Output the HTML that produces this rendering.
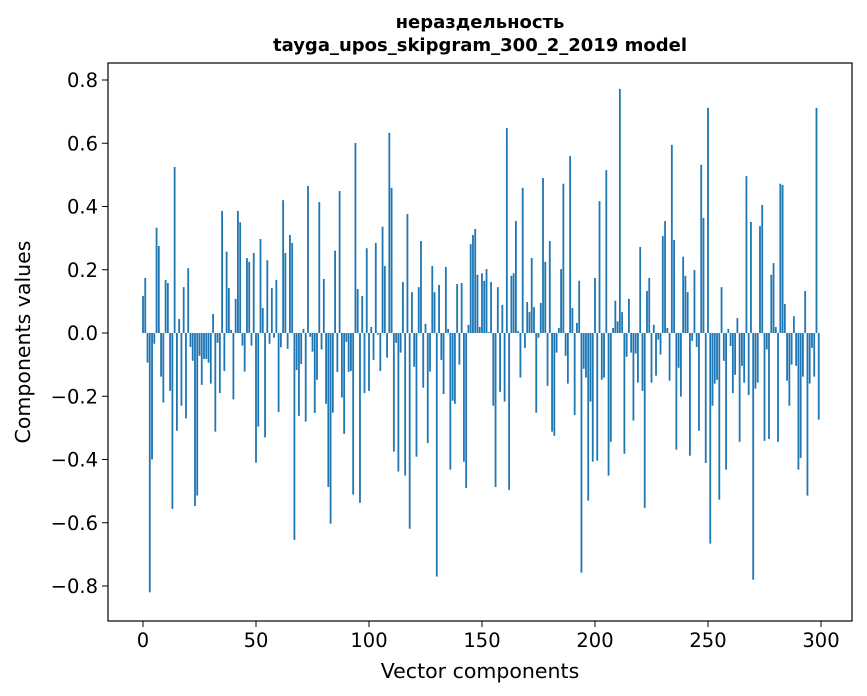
<!DOCTYPE html>
<html><head><meta charset="utf-8"><style>
body{margin:0;background:#fff;}
svg{display:block;font-family:"DejaVu Sans","Liberation Sans",sans-serif;}
</style></head><body>
<svg id="chart" width="867" height="696" viewBox="0 0 867 696" xmlns="http://www.w3.org/2000/svg">
<rect width="867" height="696" fill="#fff"/>
<text x="480" y="28" text-anchor="middle" font-size="18" font-weight="bold">нераздельность</text>
<text x="480" y="51" text-anchor="middle" font-size="18" font-weight="bold">tayga_upos_skipgram_300_2_2019 model</text>
<g id="bars"></g>
<g id="xticks"></g>
<g id="yticks"></g>
<rect x="108" y="63" width="744" height="558" fill="none" stroke="#000" stroke-width="1.2"/>
<text x="480" y="678" text-anchor="middle" font-size="20.5">Vector components</text>
<text transform="translate(30,342) rotate(-90)" text-anchor="middle" font-size="20.5">Components values</text>
</svg>
<script>
const values = [0.117,0.174,-0.094,-0.82,-0.40,-0.034,0.333,0.275,-0.138,-0.22,
0.168,0.158,-0.183,-0.556,0.525,-0.309,0.044,-0.23,0.145,-0.27,
0.205,-0.044,-0.088,-0.547,-0.514,-0.072,-0.164,-0.082,-0.082,-0.094,
-0.16,0.06,-0.312,-0.031,-0.19,0.386,-0.12,0.257,0.142,0.01,
-0.21,0.108,0.386,0.35,-0.04,-0.122,0.237,0.225,-0.04,0.253,
-0.41,-0.296,0.297,0.079,-0.33,0.23,-0.034,0.142,-0.015,0.168,
-0.25,-0.045,0.42,0.253,-0.05,0.31,0.285,-0.654,-0.117,-0.262,
-0.098,0.013,-0.28,0.465,-0.012,-0.059,-0.253,-0.148,0.414,-0.052,
0.171,-0.224,-0.487,-0.603,-0.252,0.26,-0.123,0.449,-0.204,-0.319,
-0.028,-0.123,-0.12,-0.511,0.601,0.139,-0.537,0.117,-0.19,0.268,
-0.183,0.019,-0.085,0.285,-0.005,-0.12,0.336,0.212,-0.078,0.633,
0.459,-0.375,-0.031,-0.438,-0.062,0.161,-0.451,0.376,-0.619,0.129,
-0.107,-0.391,0.145,0.291,-0.173,0.029,-0.348,-0.122,0.212,0.129,
-0.77,0.152,-0.085,-0.193,0.209,0.013,-0.432,-0.214,-0.224,0.155,
-0.1,0.158,-0.407,-0.49,0.026,0.281,0.31,0.329,0.184,0.019,
0.189,0.165,0.202,0.003,0.161,-0.23,-0.487,0.145,-0.186,0.089,
-0.217,0.648,-0.496,0.181,0.189,0.354,0.006,-0.141,0.459,-0.047,
0.098,0.066,0.237,0.082,-0.252,-0.015,0.095,0.49,0.225,-0.167,
0.291,-0.312,-0.325,-0.062,0.016,0.202,0.472,-0.072,-0.16,0.56,
0.079,-0.259,0.032,0.165,-0.758,-0.113,-0.141,-0.53,-0.217,-0.407,
0.174,-0.404,0.417,-0.148,-0.141,0.515,-0.451,-0.344,0.016,0.102,
0.037,0.772,0.066,-0.382,-0.075,0.108,-0.062,-0.277,-0.065,-0.157,
0.272,-0.183,-0.553,0.133,0.174,-0.157,0.026,-0.135,-0.021,-0.068,
0.307,0.354,0.016,-0.151,0.595,0.294,-0.369,-0.11,-0.201,0.241,
0.181,0.129,-0.388,-0.025,0.199,-0.044,-0.309,0.532,0.364,-0.411,
0.712,-0.666,-0.23,-0.16,-0.148,-0.527,0.145,-0.088,-0.432,0.013,
-0.041,-0.19,-0.132,0.047,-0.344,-0.104,-0.157,0.496,-0.196,0.351,
-0.78,-0.176,-0.157,0.338,0.405,-0.341,-0.052,-0.335,0.184,0.221,
0.019,-0.344,0.472,0.468,0.092,-0.151,-0.23,-0.1,0.053,-0.104,
-0.432,-0.395,-0.138,0.133,-0.514,-0.16,-0.047,-0.138,0.712,-0.274];
const xTicks = [0,50,100,150,200,250,300];
const yTicks = [0.8,0.6,0.4,0.2,0.0,-0.2,-0.4,-0.6,-0.8];
const yTickLabels = ["0.8","0.6","0.4","0.2","0.0","−0.2","−0.4","−0.6","−0.8"];

const NS = "http://www.w3.org/2000/svg";
function xScale(i){ return 143 + 2.26*i; }
function yScale(v){ return 333 - v*316.25; }
const barsG = document.getElementById('bars');
values.forEach((v,i)=>{
  const r = document.createElementNS(NS,'rect');
  
  
  const x0 = xScale(i-0.4), x1 = xScale(i+0.4);
  const y0 = Math.min(yScale(v), yScale(0)), y1 = Math.max(yScale(v), yScale(0));
  r.setAttribute('x', x0); r.setAttribute('width', x1-x0);
  r.setAttribute('y', y0); r.setAttribute('height', Math.max(y1-y0,0.3));
  r.setAttribute('fill', '#1f77b4');
  barsG.appendChild(r);
});
const xg = document.getElementById('xticks');
xTicks.forEach(t=>{
  const l = document.createElementNS(NS,'line');
  
  
  l.setAttribute('x1', xScale(t)); l.setAttribute('x2', xScale(t));
  l.setAttribute('y1', 621); l.setAttribute('y2', 627);
  l.setAttribute('stroke', '#000');
  xg.appendChild(l);
  const tx = document.createElementNS(NS,'text');
  
  
  tx.setAttribute('x', xScale(t)); tx.setAttribute('y', 647);
  tx.setAttribute('text-anchor', 'middle'); tx.setAttribute('font-size', '19.5');
  tx.textContent = String(t);
  xg.appendChild(tx);
});
const yg = document.getElementById('yticks');
yTicks.forEach((t,k)=>{
  const l = document.createElementNS(NS,'line');
  
  
  l.setAttribute('x1', 102); l.setAttribute('x2', 108);
  l.setAttribute('y1', yScale(t)); l.setAttribute('y2', yScale(t));
  l.setAttribute('stroke', '#000');
  yg.appendChild(l);
  const tx = document.createElementNS(NS,'text');
  
  
  tx.setAttribute('x', 98); tx.setAttribute('y', yScale(t)+7);
  tx.setAttribute('text-anchor', 'end'); tx.setAttribute('font-size', '19.5');
  tx.textContent = yTickLabels[k];
  yg.appendChild(tx);
});
</script>
</body></html>
